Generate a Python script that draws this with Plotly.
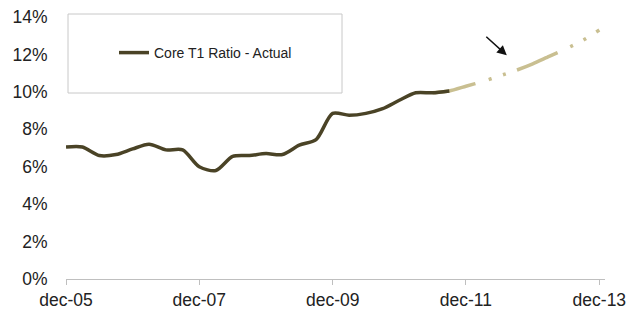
import plotly.graph_objects as go

# ---- data ----
actual_dates = ["2005-12-01", "2006-03-01", "2006-06-01", "2006-09-01", "2006-12-01",
                "2007-03-01", "2007-06-01", "2007-09-01", "2007-12-01", "2008-03-01",
                "2008-06-01", "2008-09-01", "2008-12-01", "2009-03-01", "2009-06-01",
                "2009-09-01", "2009-12-01", "2010-03-01", "2010-06-01", "2010-09-01",
                "2010-12-01", "2011-03-01", "2011-06-01", "2011-09-01"]
actual_values = [7.05, 7.05, 6.6, 6.65, 6.95,
                 7.2, 6.9, 6.9, 6.0, 5.8,
                 6.55, 6.6, 6.7, 6.65, 7.15,
                 7.45, 8.85, 8.75, 8.85, 9.1,
                 9.55, 9.95, 9.95, 10.05]

forecast_dates = ["2011-06-01", "2011-09-01", "2011-12-01", "2012-03-01", "2012-06-01",
                  "2012-09-01", "2012-12-01", "2013-03-01", "2013-06-01", "2013-09-01",
                  "2013-12-01"]
forecast_values = [9.95, 10.05, 10.3, 10.55, 10.85,
                   11.15, 11.5, 11.9, 12.3, 12.75,
                   13.3]

x_tick_vals = ["2005-12-01", "2007-12-01", "2009-12-01", "2011-12-01", "2013-12-01"]
x_tick_text = ["dec-05", "dec-07", "dec-09", "dec-11", "dec-13"]
y_tick_vals = [0, 2, 4, 6, 8, 10, 12, 14]
y_tick_text = ["0%", "2%", "4%", "6%", "8%", "10%", "12%", "14%"]

series_name = "Core T1 Ratio - Actual"
arrow_target = ("2012-07-12", 11.95)

ACTUAL_COLOR = "#4a4326"
FORECAST_COLOR = "#c9bf91"
FONT = "Liberation Sans, Arial, sans-serif"

# page body has an 8px margin, so the figure is drawn 8px in from the top-left
BODY = 8
PLOT_L, PLOT_R, PLOT_T, PLOT_B = 66, 605, 17, 279   # target plot area in window pixels
FIG_W, FIG_H = 642 - BODY, 311 - BODY
PW, PH = PLOT_R - PLOT_L, PLOT_B - PLOT_T

fig = go.Figure()

fig.add_trace(go.Scatter(
    x=forecast_dates, y=forecast_values, mode="lines",
    line=dict(color=FORECAST_COLOR, width=3.5, shape="spline", smoothing=0.6,
              dash="44px,14px,3px,12px,3px,12px"),
    showlegend=False, hoverinfo="skip"))

fig.add_trace(go.Scatter(
    x=actual_dates, y=actual_values, mode="lines", name=series_name,
    line=dict(color=ACTUAL_COLOR, width=3.5, shape="spline", smoothing=0.8),
    showlegend=True))

# legend frame
fig.add_shape(type="rect", xref="paper", yref="paper",
              x0=(68 - PLOT_L) / PW, x1=(342 - PLOT_L) / PW,
              y0=(PLOT_B - 93) / PH, y1=(PLOT_B - 14) / PH,
              line=dict(color="#c8c8c8", width=1), fillcolor="rgba(0,0,0,0)")

fig.add_annotation(x=arrow_target[0], y=arrow_target[1], xref="x", yref="y",
                   ax=-22, ay=-20, showarrow=True, arrowhead=2, arrowsize=1.3,
                   arrowwidth=1.5, arrowcolor="#111111", text="")

fig.update_layout(
    width=FIG_W, height=FIG_H, autosize=False,
    margin=dict(l=PLOT_L - BODY, r=FIG_W - (PLOT_R - BODY), t=PLOT_T - BODY,
                b=FIG_H - (PLOT_B - BODY), pad=0, autoexpand=False),
    paper_bgcolor="white", plot_bgcolor="white",
    font=dict(family=FONT, size=17.5, color="#222222"),
    showlegend=True,
    legend=dict(x=(114 - PLOT_L) / PW, y=(PLOT_B - 53) / PH, xanchor="left", yanchor="middle",
                bgcolor="rgba(0,0,0,0)", borderwidth=0,
                font=dict(family=FONT, size=14, color="#222222"),
                itemwidth=30),
    xaxis=dict(type="date", range=["2005-12-01", "2014-01-01"], automargin=False,
               tickmode="array", tickvals=x_tick_vals, ticktext=x_tick_text,
               showgrid=False, zeroline=False, ticklabeloverflow="allow",
               showline=True, linecolor="#bfbfbf", linewidth=1,
               ticks="outside", ticklen=5, tickcolor="#bfbfbf", tickwidth=1,
               tickfont=dict(family=FONT, size=17.5, color="#222222")),
    yaxis=dict(range=[0, 14], automargin=False, tickmode="array",
               tickvals=y_tick_vals, ticktext=y_tick_text, ticklabeloverflow="allow",
               showgrid=False, zeroline=False, showline=False,
               ticks="outside", ticklen=14, tickcolor="rgba(0,0,0,0)",
               tickfont=dict(family=FONT, size=17.5, color="#222222")),
)

fig.write_html("out.html")
